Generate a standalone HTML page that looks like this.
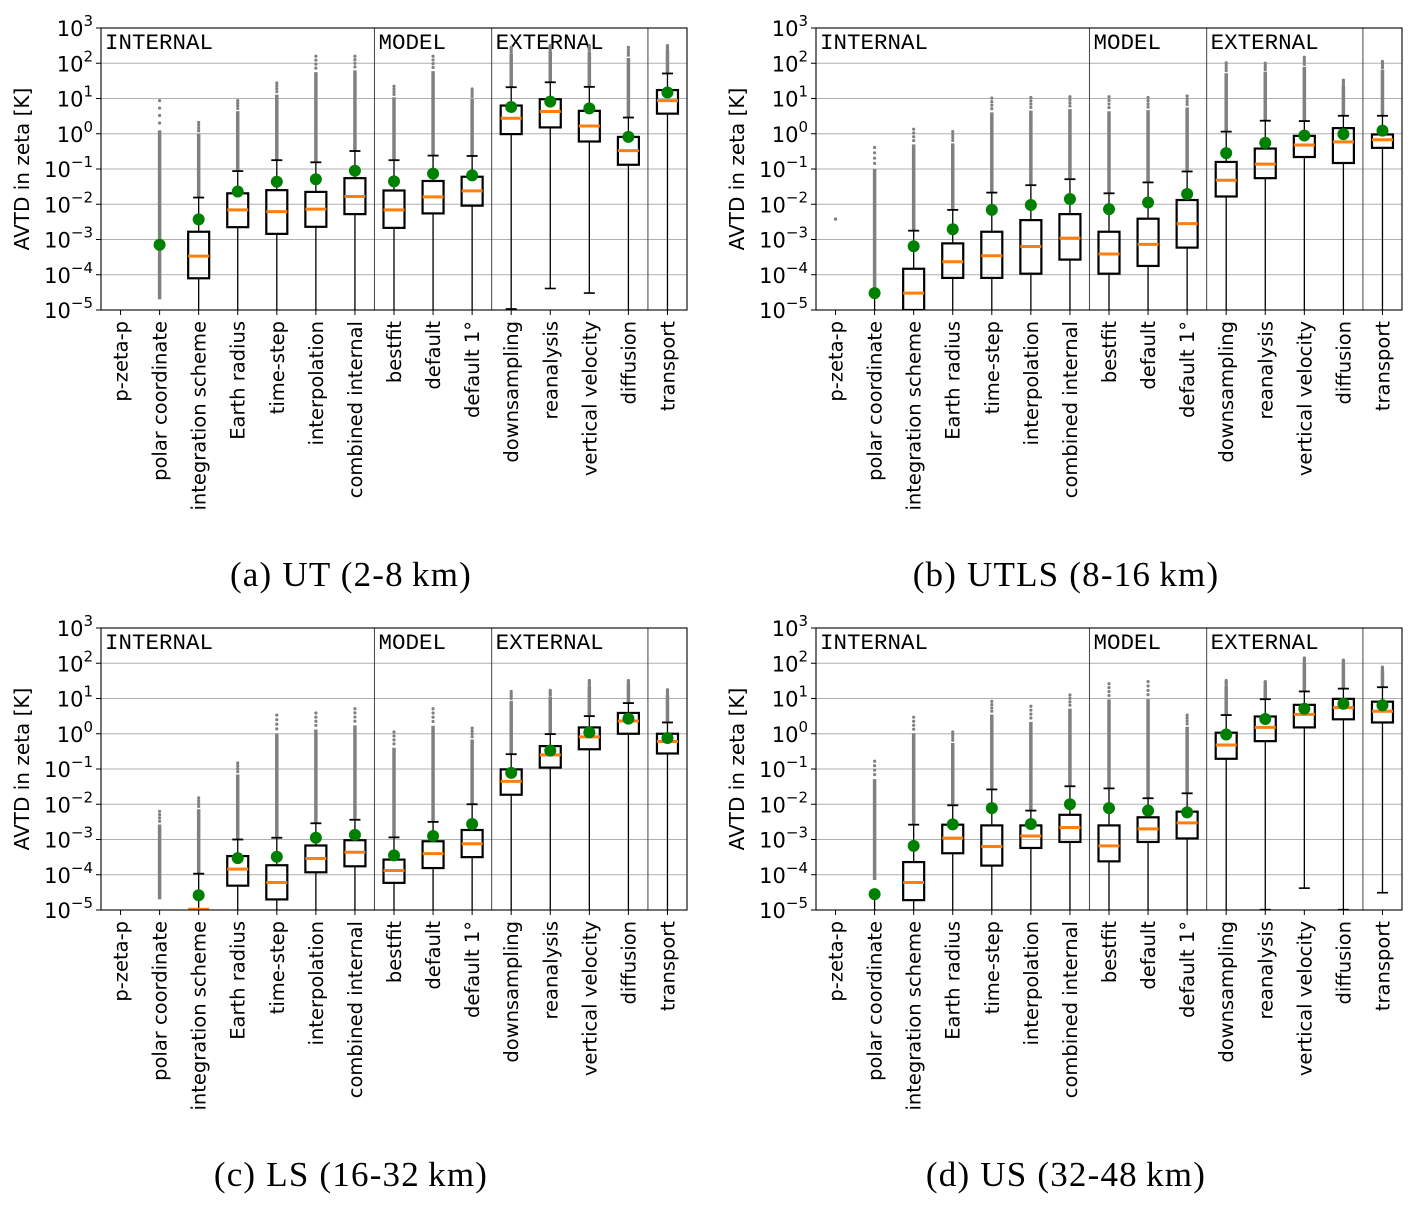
<!DOCTYPE html>
<html><head><meta charset="utf-8">
<style>
html,body{margin:0;padding:0;background:#fff;}
svg{display:block;}
</style></head>
<body>
<svg id="fig" xmlns="http://www.w3.org/2000/svg" width="1419" height="1213" viewBox="0 0 1419 1213">
<rect x="0" y="0" width="1419" height="1213" fill="#fff"/>
</svg>
<script>
// ---------- data (log10 of AVTD values) ----------
const categories = ["p-zeta-p","polar coordinate","integration scheme","Earth radius","time-step","interpolation","combined internal","bestfit","default","default 1°","downsampling","reanalysis","vertical velocity","diffusion","transport"];
const groupNames = ["INTERNAL","MODEL","EXTERNAL"];
const groupStarts = [0,7,10];
const separatorsAfter = [7,10,14];
const yTickExps = [-5,-4,-3,-2,-1,0,1,2,3];
const N = null;

// panel a: UT
const aQ1   = [N,N,-4.10,-2.65,-2.84,-2.64,-2.28,-2.67,-2.26,-2.04,-0.01,0.18,-0.22,-0.88,0.57];
const aMed  = [N,N,-3.47,-2.16,-2.21,-2.14,-1.78,-2.16,-1.79,-1.62,0.44,0.63,0.22,-0.48,0.94];
const aQ3   = [N,N,-2.78,-1.69,-1.60,-1.65,-1.26,-1.61,-1.34,-1.22,0.80,0.98,0.65,-0.09,1.24];
const aWHi  = [N,N,-1.81,-1.06,-0.75,-0.81,-0.49,-0.75,-0.62,-0.63,1.32,1.46,1.33,0.46,1.71];
const aWLo  = [N,N,-6,-6,-6,-6,-6,-6,-6,-6,-4.97,-4.39,-4.52,-6,-6];
const aMean = [N,-3.15,-2.43,-1.64,-1.36,-1.29,-1.05,-1.35,-1.13,-1.18,0.76,0.91,0.72,-0.09,1.17];
const aFMin = [N,-4.7,N,N,N,N,N,N,N,N,N,N,N,N,N];
const aFMax = [N,0.94,0.32,0.94,1.44,2.2,2.2,1.35,2.2,1.27,2.45,2.5,2.5,2.45,2.5];

// panel b: UTLS
const bQ1   = [N,N,-5.5,-4.09,-4.09,-3.97,-3.57,-3.97,-3.75,-3.23,-1.78,-1.26,-0.66,-0.83,-0.40];
const bMed  = [N,N,-4.52,-3.63,-3.46,-3.20,-2.96,-3.41,-3.14,-2.55,-1.32,-0.86,-0.32,-0.23,-0.17];
const bQ3   = [N,N,-3.83,-3.11,-2.78,-2.45,-2.28,-2.78,-2.41,-1.88,-0.80,-0.42,-0.06,0.16,-0.02];
const bWHi  = [N,N,-2.75,-2.16,-1.67,-1.46,-1.29,-1.69,-1.38,-1.07,0.06,0.37,0.36,0.51,0.51];
const bWLo  = [N,-6,-6,-6,-6,-6,-6,-6,-6,-6,-6,-6,-6,-6,-6];
const bMean = [N,-4.52,-3.19,-2.71,-2.16,-2.02,-1.85,-2.14,-1.95,-1.71,-0.55,-0.26,-0.05,-0.01,0.09];
const bFMin = [-2.42,-4.4,N,N,N,N,N,N,N,N,N,N,N,N,N];
const bFMax = [-2.42,-0.39,0.13,0.06,1.01,1.03,1.05,1.05,1.03,1.07,2.01,2.0,2.17,1.52,2.05];

// panel c: LS
const cQ1   = [N,N,-5.5,-4.31,-4.70,-3.93,-3.76,-4.23,-3.81,-3.50,-1.73,-0.96,-0.44,0.0,-0.56];
const cMed  = [N,N,-4.98,-3.84,-4.22,-3.54,-3.36,-3.88,-3.40,-3.12,-1.35,-0.60,-0.09,0.36,-0.22];
const cQ3   = [N,N,-5.02,-3.47,-3.73,-3.17,-3.02,-3.57,-3.05,-2.73,-1.01,-0.35,0.18,0.59,0.0];
const cWHi  = [N,N,-3.97,-3.0,-2.95,-2.54,-2.44,-2.94,-2.50,-2.0,-0.58,-0.01,0.50,0.87,0.32];
const cWLo  = [N,N,-6,-6,-6,-6,-6,-6,-6,-6,-6,-6,-6,-6,-6];
const cMean = [N,N,-4.58,-3.53,-3.49,-2.95,-2.87,-3.45,-2.90,-2.56,-1.11,-0.48,0.04,0.43,-0.12];
const cFMin = [N,-4.70,N,N,N,N,N,N,N,N,N,N,N,N,N];
const cFMax = [N,-2.2,-1.82,-0.83,0.53,0.59,0.71,0.05,0.71,0.16,1.2,1.23,1.51,1.51,1.25];

// panel d: US
const dQ1   = [N,N,-4.72,-3.39,-3.74,-3.24,-3.07,-3.62,-3.07,-2.97,-0.71,-0.21,0.18,0.41,0.32];
const dMed  = [N,N,-4.22,-2.96,-3.20,-2.90,-2.66,-3.18,-2.70,-2.53,-0.32,0.18,0.55,0.74,0.64];
const dQ3   = [N,N,-3.64,-2.58,-2.60,-2.60,-2.30,-2.60,-2.37,-2.21,0.03,0.49,0.82,0.99,0.91];
const dWHi  = [N,N,-2.58,-2.03,-1.58,-2.18,-1.49,-1.55,-1.83,-1.69,0.53,0.98,1.20,1.28,1.32];
const dWLo  = [N,-6,-6,-6,-6,-6,-6,-6,-6,-6,-6,-4.99,-4.38,-4.99,-4.51];
const dMean = [N,-4.55,-3.18,-2.57,-2.11,-2.56,-2.0,-2.11,-2.18,-2.23,-0.02,0.42,0.71,0.85,0.81];
const dFMin = [N,-4.15,N,N,N,N,N,N,N,N,N,N,N,N,N];
const dFMax = [N,-0.78,0.47,0.05,0.92,0.78,1.10,1.42,1.48,0.53,1.51,1.48,2.15,2.09,1.89];

const panels = [
  {id:"a", ox:101, oy:28, caption:"(a) UT (2-8\u2009km)", q1:aQ1, med:aMed, q3:aQ3, wHi:aWHi, wLo:aWLo, mean:aMean, fMin:aFMin, fMax:aFMax},
  {id:"b", ox:816, oy:28, caption:"(b) UTLS (8-16\u2009km)", q1:bQ1, med:bMed, q3:bQ3, wHi:bWHi, wLo:bWLo, mean:bMean, fMin:bFMin, fMax:bFMax},
  {id:"c", ox:101, oy:628, caption:"(c) LS (16-32\u2009km)", q1:cQ1, med:cMed, q3:cQ3, wHi:cWHi, wLo:cWLo, mean:cMean, fMin:cFMin, fMax:cFMax},
  {id:"d", ox:816, oy:628, caption:"(d) US (32-48\u2009km)", q1:dQ1, med:dMed, q3:dQ3, wHi:dWHi, wLo:dWLo, mean:dMean, fMin:dFMin, fMax:dFMax}
];

const NS = "http://www.w3.org/2000/svg";
const svg = document.getElementById("fig");
const W = 586, H = 282, YMIN = -5, YMAX = 3;
const SANS = '"DejaVu Sans","Liberation Sans",sans-serif';

function mk(tag, attrs, parent){
  const e = document.createElementNS(NS, tag);
  for (const k in attrs) e.setAttribute(k, attrs[k]);
  (parent||svg).appendChild(e);
  return e;
}

panels.forEach(p => {
  const g = mk("g", {});
  
  
  const step = W / categories.length;
  const xs = i => p.ox + step * (i + 0.5);
  const ys = v => p.oy + H - (Math.max(YMIN, Math.min(YMAX, v)) - YMIN) / (YMAX - YMIN) * H;

  const cp = mk("clipPath", {id:"clip-" + p.id}, g);
  mk("rect", {x:p.ox, y:p.oy, width:W, height:H}, cp);

  yTickExps.forEach(e => {
    const y = ys(e);
    if (e > YMIN && e < YMAX) {
      const gl = mk("line", {x1:p.ox, x2:p.ox+W, y1:y, y2:y, stroke:"#b0b0b0", "stroke-width":0.9}, g);
      
      
    }
    mk("line", {x1:p.ox-5, x2:p.ox, y1:y, y2:y, stroke:"#000", "stroke-width":1}, g);
    const t = mk("text", {x:p.ox-8, y:y+8, "text-anchor":"end", "font-family":SANS, "font-size":21, fill:"#000"}, g);
    
    
    const t1 = mk("tspan", {}, t); t1.textContent = "10";
    const t2 = mk("tspan", {dy:-10, "font-size":15}, t); t2.textContent = (e < 0 ? "\u2212" + (-e) : String(e));
  });

  separatorsAfter.forEach(i => {
    const x = p.ox + step * i;
    const s = mk("line", {x1:x, x2:x, y1:p.oy, y2:p.oy+H, stroke:"#444", "stroke-width":1}, g);
    
    
  });
  groupNames.forEach((n, k) => {
    const t = mk("text", {x:p.ox + step*groupStarts[k] + 4, y:p.oy + 21, "font-family":'"Liberation Mono","DejaVu Sans Mono",monospace', "font-size":22.5, fill:"#000"}, g);
    
    
    t.textContent = n;
  });

  const cg = mk("g", {"clip-path":"url(#clip-" + p.id + ")"}, g);
  const bw = 21, cw = 11;
  categories.forEach((c, i) => {
    const x = xs(i);
    if (p.fMax[i] !== null) {
      const lo = p.fMin[i] !== null ? p.fMin[i] : (p.wHi[i] !== null ? p.wHi[i] : -5);
      const hi = p.fMax[i];
      const denseTop = lo + (hi - lo) * 0.85;
      if (hi - lo > 0.05) {
        const fl = mk("line", {x1:x, x2:x, y1:ys(lo), y2:ys(denseTop), stroke:"#808080", "stroke-width":3.5}, cg);
        
        
      }
      for (let k = 0; k < 4; k++) {
        const v = denseTop + (hi - denseTop) * (k + 1) / 4;
        const d = mk("circle", {cx:x, cy:ys(v), r:1.6, fill:"#808080"}, cg);
        
        
      }
    }
    if (p.wLo[i] !== null) {
      const top = p.q1[i] !== null ? p.q1[i] : (p.mean[i] !== null ? p.mean[i] : -5);
      const wl = mk("line", {x1:x, x2:x, y1:ys(p.wLo[i]), y2:ys(top), stroke:"#000", "stroke-width":1.3}, cg);
      
      
      if (p.wLo[i] > YMIN) mk("line", {x1:x-cw/2, x2:x+cw/2, y1:ys(p.wLo[i]), y2:ys(p.wLo[i]), stroke:"#000", "stroke-width":1.6}, cg);
    }
    if (p.wHi[i] !== null) {
      const wh = mk("line", {x1:x, x2:x, y1:ys(p.q3[i]), y2:ys(p.wHi[i]), stroke:"#000", "stroke-width":1.3}, cg);
      
      
      mk("line", {x1:x-cw/2, x2:x+cw/2, y1:ys(p.wHi[i]), y2:ys(p.wHi[i]), stroke:"#000", "stroke-width":1.8}, cg);
    }
    if (p.q1[i] !== null) {
      const b = mk("rect", {x:x-bw/2, y:ys(p.q3[i]), width:bw, height:Math.max(0, ys(p.q1[i])-ys(p.q3[i])), fill:"none", stroke:"#000", "stroke-width":2.2}, cg);
      
      
      const m = mk("line", {x1:x-bw/2, x2:x+bw/2, y1:ys(p.med[i]), y2:ys(p.med[i]), stroke:"#ff7f0e", "stroke-width":3}, cg);
      
      
    }
    if (p.mean[i] !== null) {
      const mc = mk("circle", {cx:x, cy:ys(p.mean[i]), r:6, fill:"#008000"}, g);
      
      
    }
    mk("line", {x1:x, x2:x, y1:p.oy+H, y2:p.oy+H+5, stroke:"#000", "stroke-width":1}, g);
    const lx = x + 7, ly = p.oy + H + 11;
    const t = mk("text", {x:lx, y:ly, "text-anchor":"end", transform:"rotate(-90 " + lx + " " + ly + ")", "font-family":SANS, "font-size":19.5, fill:"#000"}, g);
    
    
    t.textContent = c;
  });

  const fr = mk("rect", {x:p.ox, y:p.oy, width:W, height:H, fill:"none", stroke:"#000", "stroke-width":1.1}, g);
  
  

  const yx = p.ox - 72, yy = p.oy + H/2;
  const yt = mk("text", {x:yx, y:yy, "text-anchor":"middle", transform:"rotate(-90 " + yx + " " + yy + ")", "font-family":SANS, "font-size":20, fill:"#000"}, g);
  
  
  yt.textContent = "AVTD in zeta [K]";

  const cap = mk("text", {x:p.ox + W/2 - 43, y:p.oy + 558, "text-anchor":"middle", "font-family":'"Liberation Serif","DejaVu Serif",serif', "font-size":35, "letter-spacing":1.2, fill:"#000"}, g);
  
  
  cap.textContent = p.caption;
});
</script>
</body></html>
